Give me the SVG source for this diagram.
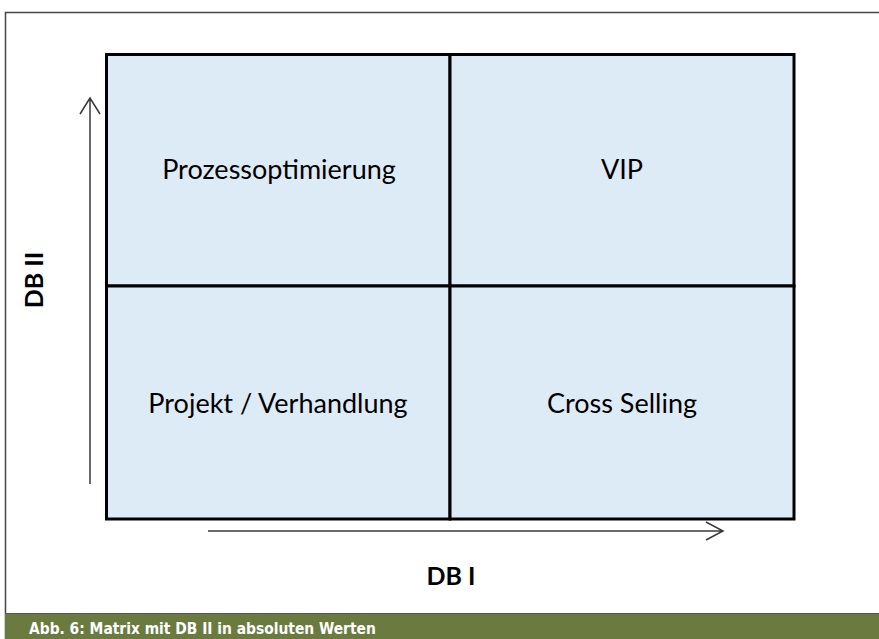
<svg xmlns="http://www.w3.org/2000/svg" width="879" height="639" viewBox="0 0 879 639">
<style>
.lbl{font-family:Lato,"Open Sans","Liberation Sans",sans-serif;font-size:27px;fill:#000;text-anchor:middle}
.ax{font-family:Lato,"Open Sans","Liberation Sans",sans-serif;font-size:25px;font-weight:bold;fill:#000;text-anchor:middle}
.cell{fill:#DDEBF7;stroke:#000;stroke-width:3}
.arr{stroke:#3a3a3a;stroke-width:1.5;fill:none}
.cap{font-family:"DejaVu Sans Condensed","Roboto",sans-serif;font-size:15.4px;font-weight:bold;fill:#fff}
</style>
<rect x="0" y="0" width="879" height="639" fill="#fff"/>
<path d="M5.5 639 V12.5 H879" fill="none" stroke="#444" stroke-width="1.5"/>
<rect x="5" y="613" width="874" height="26" fill="#6B7A3F"/>
<line x1="5" y1="613.5" x2="879" y2="613.5" stroke="#555" stroke-width="1.2"/>
<text class="cap" x="29" y="634">Abb. 6: Matrix mit DB II in absoluten Werten</text>
<g id="q-top-left"><rect class="cell" x="106.5" y="54.5" width="343.5" height="231.5"/><text class="lbl" x="279" y="179">Prozessoptimierung</text></g>
<g id="q-top-right"><rect class="cell" x="450" y="54.5" width="344" height="231.5"/><text class="lbl" x="622" y="179">VIP</text></g>
<g id="q-bottom-left"><rect class="cell" x="106.5" y="286" width="343.5" height="233"/><text class="lbl" x="278" y="413">Projekt / Verhandlung</text></g>
<g id="q-bottom-right"><rect class="cell" x="450" y="286" width="344" height="233"/><text class="lbl" x="622" y="413">Cross Selling</text></g>
<g id="connectors">
<path class="arr" d="M90 484 V98 M80 114 L90 98 L100 114"/>
<path class="arr" d="M208 531 H723 M706 522 L723 531 L706 540"/>
</g>
<g id="axis-labels">
<text class="ax" x="451" y="585">DB I</text>
<text class="ax" transform="translate(43 280) rotate(-90)" x="0" y="0">DB II</text>
</g>
</svg>
